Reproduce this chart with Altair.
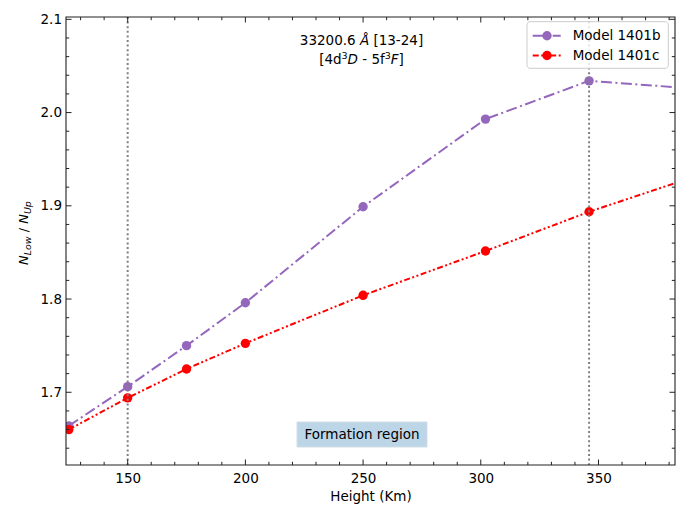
import altair as alt
import pandas as pd

# ---- data ----
heights = [125, 150, 175, 200, 250, 302, 346, 400]
model_b = [1.664, 1.706, 1.750, 1.796, 1.899, 1.993, 2.034, 2.024]
model_c = [1.660, 1.694, 1.725, 1.7525, 1.804, 1.8515, 1.8936, 1.939]
series_names = ["Model 1401b", "Model 1401c"]
series_colors = ["#9467bd", "#ff0000"]
region_bounds = [150, 346]
x_major = [150, 200, 250, 300, 350]
x_minor = [130, 140, 160, 170, 180, 190, 210, 220, 230, 240, 260, 270, 280,
           290, 310, 320, 330, 340, 360, 370, 380]
y_major = [1.7, 1.8, 1.9, 2.0, 2.1]
y_minor = [1.64, 1.66, 1.68, 1.72, 1.74, 1.76, 1.78, 1.82, 1.84, 1.86, 1.88,
           1.92, 1.94, 1.96, 1.98, 2.02, 2.04, 2.06, 2.08]

W, H = 609, 448
FONT = "DejaVu Sans"
FS = 13.5
MSIZE = 88
xs = alt.Scale(domain=[123.8, 382.5], nice=False, zero=False)
ys = alt.Scale(domain=[1.622, 2.1025], nice=False, zero=False)
ax_x = alt.Axis(values=x_major, format="d", ticks=False, tickSize=0, domain=False,
                grid=False, title=None, labelPadding=6, labelFont=FONT,
                labelFontSize=FS, labelColor="black")
ax_y = alt.Axis(values=y_major, format=".1f", ticks=False, tickSize=0, domain=False,
                grid=False, title=None, labelPadding=4.5, labelFont=FONT,
                labelFontSize=FS, labelColor="black")

def X(f):
    return alt.X(f, type="quantitative", scale=xs, axis=ax_x)

def Y(f):
    return alt.Y(f, type="quantitative", scale=ys, axis=ax_y)

one = pd.DataFrame({"a": [0]})
layers = []

df_b = pd.DataFrame({"h": heights, "v": model_b})
df_c = pd.DataFrame({"h": heights, "v": model_c})
dashes = [[11, 3.5, 2, 3.5], [6, 2.5, 2, 2.5, 2, 2.5]]
for df, col, dash in [(df_b, series_colors[0], dashes[0]), (df_c, series_colors[1], dashes[1])]:
    layers.append(alt.Chart(df).mark_line(color=col, strokeWidth=2, strokeDash=dash, clip=True)
                  .encode(x=X("h"), y=Y("v")))
    layers.append(alt.Chart(df).mark_circle(color=col, size=MSIZE, opacity=1, clip=True)
                  .encode(x=X("h"), y=Y("v")))

# vertical dotted lines (formation region bounds)
layers.append(alt.Chart(pd.DataFrame({"r": region_bounds}))
              .mark_rule(color="#808080", strokeWidth=2, strokeDash=[2, 2.6])
              .encode(x=X("r")))

# inward ticks on all sides
TK = "#222222"
for vals, L in [(x_major, 5.5), (x_minor, 3.2)]:
    d = pd.DataFrame({"t": vals})
    layers.append(alt.Chart(d).mark_rule(color=TK, strokeWidth=1)
                  .encode(x=X("t"), y=alt.value(H), y2=alt.value(H - L)))
    layers.append(alt.Chart(d).mark_rule(color=TK, strokeWidth=1)
                  .encode(x=X("t"), y=alt.value(0), y2=alt.value(L)))
for vals, L in [(y_major, 5.5), (y_minor, 3.2)]:
    d = pd.DataFrame({"t": vals})
    layers.append(alt.Chart(d).mark_rule(color=TK, strokeWidth=1)
                  .encode(y=Y("t"), x=alt.value(0), x2=alt.value(L)))
    layers.append(alt.Chart(d).mark_rule(color=TK, strokeWidth=1)
                  .encode(y=Y("t"), x=alt.value(W), x2=alt.value(W - L)))

# Formation region box
layers.append(alt.Chart(one).mark_rect(fill="#bcd6e8", stroke="#d3dde6", strokeWidth=1)
              .encode(x=alt.value(231), x2=alt.value(361), y=alt.value(405), y2=alt.value(430)))
layers.append(alt.Chart(one).mark_text(text="Formation region", font=FONT, fontSize=FS,
                                       color="black", align="center", baseline="middle")
              .encode(x=alt.value(296), y=alt.value(418)))

def txt(s, x, y, italic=False, size=FS, angle=None, align="left"):
    kw = dict(text=s, font=FONT, fontSize=size, color="black", align=align,
              baseline="alphabetic")
    if italic:
        kw["fontStyle"] = "italic"
    if angle is not None:
        kw["angle"] = angle
    return alt.Chart(one).mark_text(**kw).encode(x=alt.value(x), y=alt.value(y))

# top annotation (two lines, with italic pieces and superscripts)
o = -0.6
layers += [
    txt("33200.6", 233.8, 28),
    txt("Å", 293.9, 28, italic=True),
    txt("[13-24]", 307.4, 28),
    txt("[4d", 253.75 + o, 47),
    txt("3", 276.15 + o, 41.5, size=9.5),
    txt("D", 282.15 + o, 47, italic=True),
    txt("- 5f", 296.85 + o, 47),
    txt("3", 319.35 + o, 41.5, size=9.5),
    txt("F", 325.35 + o, 47, italic=True),
    txt("]", 333.15 + o, 47),
]

# x-axis title
layers.append(txt("Height (Km)", 305, 483.7, align="center"))

# y-axis title N_Low / N_Up (rotated pieces)
layers += [
    txt("N", -38.5, 248, italic=True, size=13, angle=270),
    txt("Low", -35.5, 238.3, italic=True, size=9.5, angle=270),
    txt("/", -38.5, 215.3, size=13, angle=270),
    txt("N", -38.5, 206.8, italic=True, size=13, angle=270),
    txt("Up", -35.5, 197.1, italic=True, size=9.5, angle=270),
]

# legend
layers.append(alt.Chart(one).mark_rect(fill="white", fillOpacity=0.8, stroke="#cccccc",
                                       strokeWidth=1, cornerRadius=3)
              .encode(x=alt.value(461), x2=alt.value(602.3), y=alt.value(4.7), y2=alt.value(51.3)))
rows = [18.8, 38.5]
for name, col, dash, ry in zip(series_names, series_colors, dashes, rows):
    layers.append(alt.Chart(one).mark_rule(color=col, strokeWidth=2, strokeDash=dash)
                  .encode(x=alt.value(466.7), x2=alt.value(494.7), y=alt.value(ry)))
    layers.append(alt.Chart(one).mark_circle(color=col, size=MSIZE, opacity=1)
                  .encode(x=alt.value(481), y=alt.value(ry)))
    layers.append(alt.Chart(one).mark_text(text=name, font=FONT, fontSize=FS, color="black",
                                           align="left", baseline="middle")
                  .encode(x=alt.value(506.7), y=alt.value(ry)))

# frame
layers.append(alt.Chart(one).mark_rect(fillOpacity=0, stroke="#222222", strokeWidth=1.1)
              .encode(x=alt.value(0), x2=alt.value(W), y=alt.value(0), y2=alt.value(H)))

chart = (alt.layer(*layers)
         .properties(width=W, height=H,
                     autosize=alt.AutoSizeParams(type="none"),
                     padding={"left": 58, "top": 9, "right": 6, "bottom": 46})
         .configure_view(strokeWidth=0))

chart.save("out.html", embed_options={"renderer": "svg", "actions": False})
